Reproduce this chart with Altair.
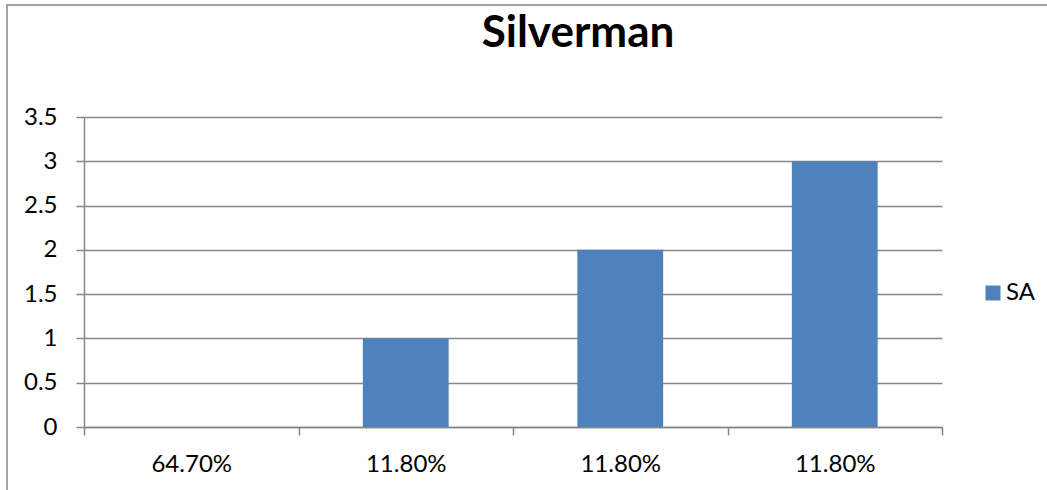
import altair as alt
import pandas as pd

# Category labels along the x axis (the last three repeat, so bars are keyed by slot)
categories = ["64.70%", "11.80%", "11.80%", "11.80%"]
# Bar heights for the single series
sa_values = [0, 1, 2, 3]
series_name = "SA"
y_ticks = [0, 0.5, 1, 1.5, 2, 2.5, 3, 3.5]

df = pd.DataFrame({
    "slot": list(range(len(categories))),
    "value": sa_values,
    "series": [series_name] * len(categories),
})

label_lookup = "[" + ",".join(f"'{c}'" for c in categories) + "]"

GREY = "#868686"
BLUE = "#4F81BD"
FONT = "Lato"
LABEL_SIZE = 24

bars = alt.Chart(df).mark_bar(width=alt.RelativeBandSize(0.4)).encode(
    x=alt.X(
        "slot:O",
        scale=alt.Scale(paddingInner=0, paddingOuter=0),
        axis=alt.Axis(
            title=None,
            labelExpr=f"{label_lookup}[datum.value]",
            labelAngle=0,
            tickBand="extent",
            tickSize=8,
            tickColor=GREY,
            tickWidth=1.5,
            domainColor=GREY,
            domainWidth=1.5,
            grid=False,
            labelPadding=17,
            labelFontSize=LABEL_SIZE,
            labelFont=FONT,
            labelColor="black",
        ),
    ),
    y=alt.Y(
        "value:Q",
        scale=alt.Scale(domain=[0, 3.5], nice=False),
        axis=alt.Axis(
            title=None,
            values=y_ticks,
            format="~g",
            tickSize=8,
            tickColor=GREY,
            tickWidth=1.5,
            domainColor=GREY,
            domainWidth=1.5,
            grid=True,
            gridColor=GREY,
            gridWidth=1.5,
            labelPadding=19,
            labelFontSize=LABEL_SIZE,
            labelFont=FONT,
            labelColor="black",
        ),
    ),
    color=alt.Color(
        "series:N",
        scale=alt.Scale(range=[BLUE]),
        legend=alt.Legend(
            title=None,
            orient="none",
            legendX=897,
            legendY=164,
            symbolType="square",
            symbolSize=225,
            symbolStrokeWidth=0,
            labelFontSize=LABEL_SIZE,
            labelFont=FONT,
            labelColor="black",
            labelOffset=1,
        ),
    ),
)

# Outer chart frame
frame = alt.Chart(pd.DataFrame({"k": [0]})).mark_rect(
    fillOpacity=0, stroke=GREY, strokeWidth=1.5
).encode(
    x=alt.value(-77), x2=alt.value(964), y=alt.value(-112), y2=alt.value(374)
)

chart = alt.layer(frame, bars).properties(
    width=858,
    height=310,
    padding={"left": 84, "top": 117, "right": 105, "bottom": 63},
    autosize=alt.AutoSizeParams(type="none"),
    background="white",
    title=alt.TitleParams(
        "Silverman",
        fontSize=44,
        font=FONT,
        fontWeight="bold",
        color="black",
        anchor="middle",
        dx=65,
        baseline="alphabetic",
        offset=-87,
    ),
).configure_view(stroke=None)

chart.save("out.html", embed_options={"renderer": "svg", "actions": False})
